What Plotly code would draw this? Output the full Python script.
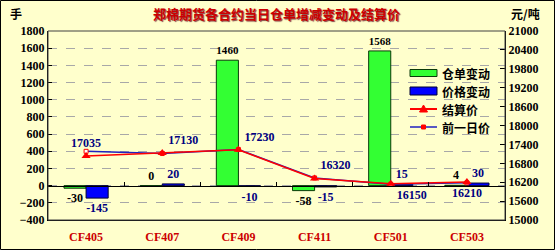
import plotly.graph_objects as go

# ---- data ----
categories = ["CF405", "CF407", "CF409", "CF411", "CF501", "CF503"]
warrant_change = [-30, 0, 1460, -58, 1568, 4]          # 仓单变动 (手)
price_change = [-145, 20, -10, -15, 15, 30]            # 价格变动
settle_price = [17035, 17130, 17230, 16320, 16150, 16210]  # 结算价
prev_price = [17180, 17110, 17240, 16335, 16135, 16180]    # 前一日价

left_ticks = list(range(-400, 1801, 200))
right_ticks = list(range(15000, 21001, 600))

# ---- layout constants ----
W, H = 555, 250
ML, MR, MT, MB = 48, 50, 31, 30
PW = W - ML - MR
PH = H - MT - MB
BG = "#FFFFCC"
SERIF = "Liberation Serif"
CJK = "Noto Sans CJK SC"


def px(x):
    return (x - ML) / PW


def py(y):
    return (H - MB - y) / PH


fig = go.Figure()

fig.add_trace(go.Bar(
    x=categories, y=warrant_change, name="仓单变动",
    marker=dict(color="#33FF33", line=dict(color="#0A3A0A", width=1)),
    text=[str(v) for v in warrant_change], textposition="outside",
    textfont=dict(family=SERIF, size=12, color="#000000", weight="bold"),
    cliponaxis=False, showlegend=False,
))
fig.add_trace(go.Bar(
    x=categories, y=price_change, name="价格变动",
    marker=dict(color="#0000FF", line=dict(color="#000033", width=1)),
    text=[str(v) for v in price_change], textposition="outside",
    textfont=dict(family=SERIF, size=12, color="#000080", weight="bold"),
    cliponaxis=False, showlegend=False,
))
fig.add_trace(go.Scatter(
    x=categories, y=prev_price, name="前一日价", yaxis="y2",
    mode="lines+markers",
    line=dict(color="#2020C0", width=1.5),
    marker=dict(symbol="square", size=4, color="#FFFFFF", line=dict(color="#FF0000", width=1)),
    showlegend=False,
))
fig.add_trace(go.Scatter(
    x=categories, y=settle_price, name="结算价", yaxis="y2",
    mode="lines+markers+text",
    line=dict(color="#FF0000", width=1.5),
    marker=dict(symbol="triangle-up", size=8, color="#FF0000"),
    text=[str(v) for v in settle_price],
    textposition=["top center", "top right", "top right", "top right", "bottom right", "bottom center"],
    textfont=dict(family=SERIF, size=12, color="#000080", weight="bold"),
    cliponaxis=False, showlegend=False,
))
# invisible helper trace for the zero-line axis with boundary ticks
fig.add_trace(go.Scatter(
    x=categories, y=warrant_change, xaxis="x2", mode="markers",
    marker=dict(opacity=0), hoverinfo="skip", showlegend=False,
))

tickfont = dict(family=SERIF, size=12, color="#000000", weight="bold")

fig.update_layout(
    width=W, height=H,
    margin=dict(l=ML, r=MR, t=MT, b=MB, autoexpand=False),
    paper_bgcolor=BG, plot_bgcolor=BG,
    barmode="group", bargap=0.42, bargroupgap=0,
    showlegend=False,
    xaxis=dict(
        showgrid=False, showline=True, linecolor="#000000", ticks="",
        tickfont=dict(family=SERIF, size=12, color="#CC0000", weight="bold"),
        ticklabelstandoff=6, automargin=False,
        zeroline=False,
    ),
    xaxis2=dict(
        overlaying="x", matches="x", anchor="free",
        position=(0 - left_ticks[0]) / (left_ticks[-1] - left_ticks[0]),
        showline=True, linecolor="#000000", linewidth=1,
        ticks="inside", tickson="boundaries", ticklen=4, tickcolor="#000000",
        showticklabels=False, showgrid=False, zeroline=False, automargin=False,
    ),
    yaxis=dict(
        range=[left_ticks[0], left_ticks[-1]], tickvals=left_ticks,
        showline=True, linecolor="#000000", ticks="inside", ticklen=4,
        tickcolor="#000000",
        showgrid=True, gridcolor="#A8A8A8", griddash="dash", gridwidth=1,
        zeroline=False, tickfont=tickfont, automargin=False,
    ),
    yaxis2=dict(
        range=[right_ticks[0], right_ticks[-1]], tickvals=right_ticks,
        ticktext=[str(v) for v in right_ticks],
        overlaying="y", side="right",
        showline=True, linecolor="#000000", ticks="inside", ticklen=5,
        tickcolor="#000000", showgrid=False, zeroline=False, tickfont=tickfont,
        automargin=False,
    ),
)

shapes = []
# plot area frame
shapes.append(dict(type="rect", xref="paper", yref="paper", x0=0, y0=0, x1=1, y1=1,
                   line=dict(color="#404040", width=1), layer="above"))
# outer chart border
shapes.append(dict(type="rect", xref="paper", yref="paper",
                   x0=px(0.5), y0=py(H - 0.5), x1=px(W - 0.5), y1=py(0.5),
                   line=dict(color="#000000", width=1)))

# custom legend
lx0, lx1 = 410, 437
rows = [73, 91, 109, 127]
shapes.append(dict(type="rect", xref="paper", yref="paper",
                   x0=px(lx0), x1=px(lx1), y0=py(rows[0] + 3.5), y1=py(rows[0] - 3.5),
                   fillcolor="#33FF33", line=dict(color="#0A3A0A", width=1)))
shapes.append(dict(type="rect", xref="paper", yref="paper",
                   x0=px(lx0), x1=px(lx1), y0=py(rows[1] + 4), y1=py(rows[1] - 4),
                   fillcolor="#0000FF", line=dict(color="#000033", width=1)))
shapes.append(dict(type="line", xref="paper", yref="paper",
                   x0=px(lx0), x1=px(lx1), y0=py(rows[2]), y1=py(rows[2]),
                   line=dict(color="#FF0000", width=2)))
cx = (lx0 + lx1) / 2
tri = "M {} {} L {} {} L {} {} Z".format(px(cx - 4), py(rows[2] + 3), px(cx + 4), py(rows[2] + 3),
                                         px(cx), py(rows[2] - 4))
shapes.append(dict(type="path", xref="paper", yref="paper", path=tri,
                   fillcolor="#FF0000", line=dict(color="#FF0000", width=1)))
shapes.append(dict(type="line", xref="paper", yref="paper",
                   x0=px(lx0), x1=px(lx1), y0=py(rows[3]), y1=py(rows[3]),
                   line=dict(color="#2020C0", width=1.5)))
shapes.append(dict(type="rect", xref="paper", yref="paper",
                   x0=px(cx - 2), x1=px(cx + 2), y0=py(rows[3] + 2), y1=py(rows[3] - 2),
                   fillcolor="#FF0000", line=dict(color="#FF0000", width=1)))
fig.update_layout(shapes=shapes)

legend_names = ["仓单变动", "价格变动", "结算价", "前一日价"]
annotations = []
for name, ry in zip(legend_names, rows):
    annotations.append(dict(text="<b>" + name + "</b>", xref="paper", yref="paper",
                            x=px(440), y=py(ry), xanchor="left", yanchor="middle",
                            showarrow=False, font=dict(family=CJK, size=12, color="#000000")))

annotations.append(dict(text="<b>郑棉期货各合约当日仓单增减变动及结算价</b>", xref="paper", yref="paper",
                        x=px(276), y=py(14), xanchor="center", yanchor="middle", showarrow=False,
                        font=dict(family=CJK, size=13, color="#CC0000",
                                  shadow="1px 1px 1px #804040")))
annotations.append(dict(text="<b>手</b>", xref="paper", yref="paper",
                        x=px(16), y=py(14), xanchor="center", yanchor="middle", showarrow=False,
                        font=dict(family=CJK, size=12, color="#000000")))
annotations.append(dict(text="<b>元/吨</b>", xref="paper", yref="paper",
                        x=px(525), y=py(14), xanchor="center", yanchor="middle", showarrow=False,
                        font=dict(family=CJK, size=12, color="#000000")))
fig.update_layout(annotations=annotations)

fig.write_html("out.html")
